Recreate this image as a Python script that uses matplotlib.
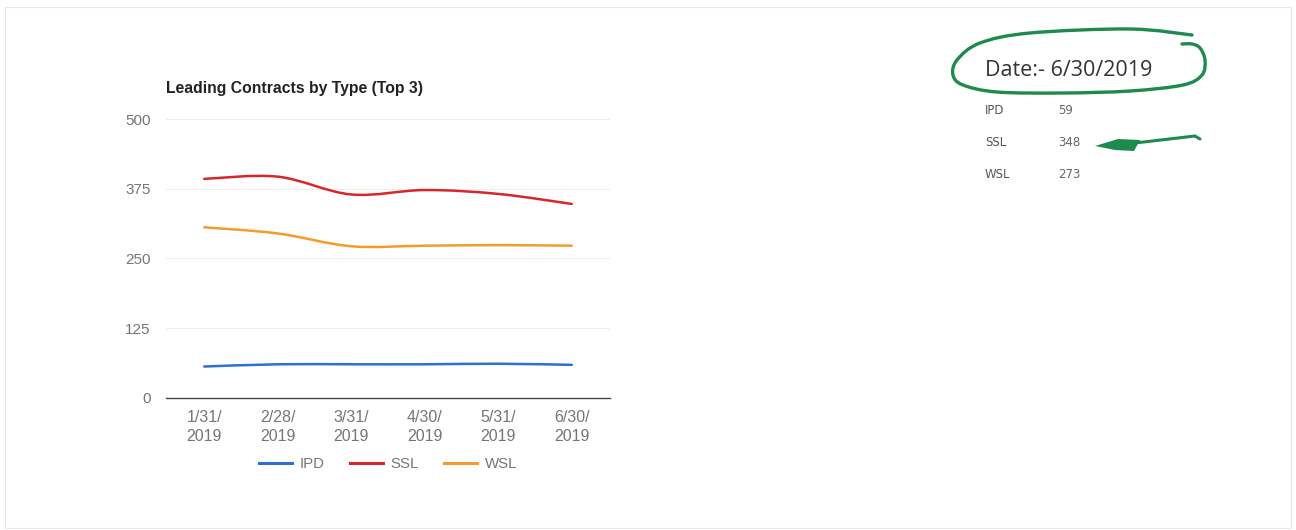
import numpy as np
import matplotlib
matplotlib.use("Agg")
import matplotlib.pyplot as plt
from matplotlib.path import Path
from matplotlib.patches import PathPatch, Rectangle

plt.rcParams['font.family'] = ['Liberation Sans', 'DejaVu Sans']

# data
months = ["1/31/\n2019", "2/28/\n2019", "3/31/\n2019", "4/30/\n2019", "5/31/\n2019", "6/30/\n2019"]
ipd = [56, 60, 60, 60, 61, 59]
ssl = [393, 397, 365, 373, 366, 348]
wsl = [306, 295, 272, 273, 274, 273]
series_names = ["IPD", "SSL", "WSL"]
series_colors = ["#2f6fd0", "#d8262d", "#f39c2b"]
yticks = [0, 125, 250, 375, 500]

summary_date = "6/30/2019"
summary_vals = [59, 348, 273]


def smooth_path(xs, ys, tension=1.0 / 6):
    # cardinal spline through the points, as bezier segments
    xs = np.asarray(xs, float)
    ys = np.asarray(ys, float)
    pts = np.column_stack([xs, ys])
    verts = [pts[0]]
    codes = [Path.MOVETO]
    n = len(pts)
    for i in range(n - 1):
        p0 = pts[max(i - 1, 0)]
        p1 = pts[i]
        p2 = pts[i + 1]
        p3 = pts[min(i + 2, n - 1)]
        c1 = p1 + (p2 - p0) * tension
        c2 = p2 - (p3 - p1) * tension
        verts += [c1, c2, p2]
        codes += [Path.CURVE4] * 3
    return Path(verts, codes)


fig = plt.figure(figsize=(12.96, 5.30), dpi=100)
W, H = 1296, 530

ax = fig.add_axes([166 / W, 1 - 397.7 / H, 444 / W, 278.4 / H])
x = np.arange(len(months))
for vals, name, col in zip([ipd, ssl, wsl], series_names, series_colors):
    ax.add_patch(PathPatch(smooth_path(x, vals), fill=False, edgecolor=col, lw=1.8,
                           capstyle='round', zorder=3))
    ax.plot([], [], color=col, lw=2.2, label=name)

ax.set_xlim(-0.52, 5.52)
ax.set_ylim(0, 500)
ax.set_yticks(yticks)
ax.set_yticklabels([str(v) for v in yticks])
ax.set_xticks(x)
ax.set_xticklabels(months, linespacing=1.35, fontsize=11.5)
ax.grid(axis='y', color='#eeeeee', lw=0.8)
ax.set_axisbelow(True)
for s in ['top', 'right', 'left']:
    ax.spines[s].set_visible(False)
ax.spines['bottom'].set_color('#444444')
ax.spines['bottom'].set_linewidth(1.0)
ax.tick_params(axis='both', length=0, colors='#757575', labelsize=11)
ax.tick_params(axis='x', labelsize=11.5, pad=9)
ax.tick_params(axis='y', pad=11)

fig.text(166 / W, 1 - 88.3 / H, "Leading Contracts by Type (Top 3)", fontsize=11.3,
         fontweight='bold', color='#222222', va='center', ha='left')

handles, labels = ax.get_legend_handles_labels()
fig.legend(handles, labels, loc='center', bbox_to_anchor=(388 / W, 1 - 464 / H), ncol=3,
           frameon=False, fontsize=10.8, handlelength=2.2, handletextpad=0.5,
           columnspacing=1.7, labelcolor='#757575')

# overlay in pixel coords for the summary box and the hand drawn marks
ov = fig.add_axes([0, 0, 1, 1], zorder=5)
ov.set_xlim(0, W)
ov.set_ylim(H, 0)
ov.axis('off')
ov.patch.set_alpha(0)

ov.add_patch(Rectangle((5, 7), W - 10, H - 9, fill=False, edgecolor='#e8e8e8', lw=0.8))

ov.text(985, 70, "Date:- " + summary_date, fontsize=15.5, family='Open Sans',
        color='#333333', va='center', ha='left')
for i, (name, v) in enumerate(zip(series_names, summary_vals)):
    yy = 111 + i * 32
    ov.text(985, yy, name, fontsize=8.5, family='DejaVu Sans', color='#555555', va='center')
    ov.text(1058, yy, str(v), fontsize=8.5, family='DejaVu Sans', color='#666666', va='center')

green = '#1d8a4e'
loop_x = [1192, 1130, 1030, 980, 957, 953, 963, 997, 1063, 1130, 1183, 1202, 1205, 1200, 1192, 1182]
loop_y = [35, 29, 33, 43, 60, 75, 85, 92, 93, 91, 85, 75, 60, 48, 44, 44]
ov.add_patch(PathPatch(smooth_path(loop_x, loop_y), fill=False, edgecolor=green, lw=2.4,
                       capstyle='round'))

ov.plot([1200, 1195, 1135], [139, 136, 143], color=green, lw=2.2, solid_capstyle='round')
ov.add_patch(plt.Polygon([[1095, 146], [1118, 139], [1140, 140], [1134, 151], [1115, 150]],
                         closed=True, color=green, lw=0))

fig.savefig("out.png", dpi=100, facecolor='white')
